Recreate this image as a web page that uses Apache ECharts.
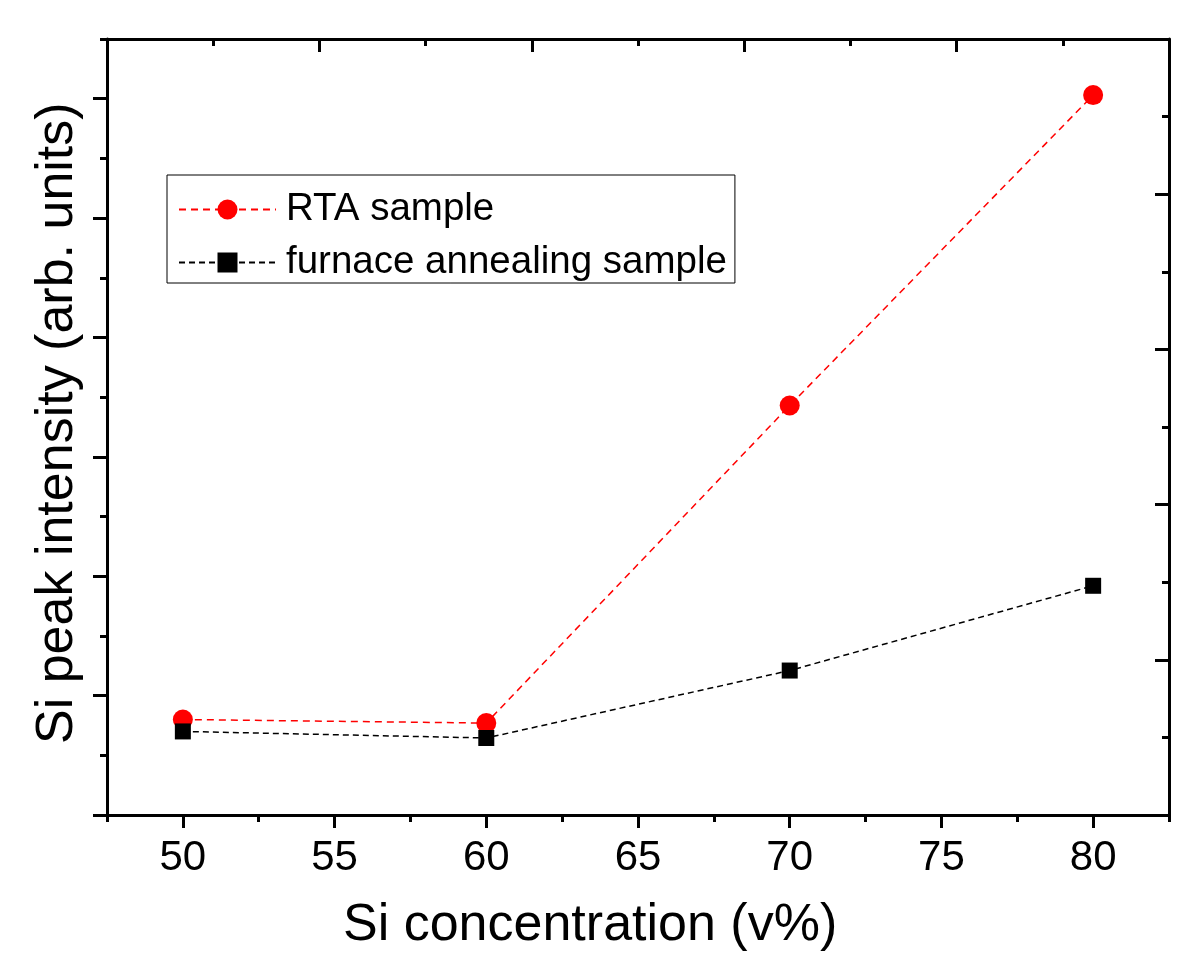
<!DOCTYPE html>
<html>
<head>
<meta charset="utf-8">
<script src="https://cdn.jsdelivr.net/npm/echarts@6/dist/echarts.min.js"></script>
<style>html,body{margin:0;padding:0;background:#fff}#c{width:1200px;height:972px}</style>
</head>
<body>
<div id="c"></div>
<script>
const xValues = [50, 60, 70, 80];
const rtaValues = [0.80, 0.77, 3.43, 6.03];
const furnaceValues = [0.70, 0.645, 1.21, 1.92];
const xMajorTicks = [50, 55, 60, 65, 70, 75, 80];
const yMajorTicks = [0, 1, 2, 3, 4, 5, 6];
const seriesNames = ['RTA sample', 'furnace annealing sample'];

const FONT = 'Liberation Sans, Arial, sans-serif';
function line(show) { return { show: show, onZero: false, lineStyle: { color: '#000', width: 3 } }; }
function ticks(len, inside, extra) { return Object.assign({ show: true, inside: inside, length: len, lineStyle: { width: 3, color: '#000' } }, extra || {}); }
const chart = echarts.init(document.getElementById('c'));

chart.setOption({
  animation: false,
  backgroundColor: '#fff',
  grid: [
    { left: 107, right: 31, top: 39, bottom: 157, containLabel: false },
    { left: 107, right: 31, top: 0, height: 39, containLabel: false }
  ],
  xAxis: [
    { type: 'value', gridIndex: 0, position: 'bottom', min: 47.5, max: 82.5,
      axisLine: line(true), splitLine: { show: false },
      axisTick: ticks(13, false, { customValues: xMajorTicks }),
      axisLabel: { show: true, customValues: xMajorTicks, margin: 22, fontSize: 42, color: '#000', fontFamily: FONT } },
    { type: 'value', gridIndex: 0, position: 'bottom', min: 47.5, max: 82.5, interval: 2.5,
      axisLine: line(false), splitLine: { show: false },
      axisTick: ticks(7, false),
      axisLabel: { show: false } },
    { type: 'value', gridIndex: 1, position: 'bottom', min: 0, max: 5, interval: 1,
      axisLine: line(true), splitLine: { show: false },
      axisTick: ticks(13, false),
      axisLabel: { show: false } },
    { type: 'value', gridIndex: 1, position: 'bottom', min: 0, max: 5, interval: 0.5,
      axisLine: line(false), splitLine: { show: false },
      axisTick: ticks(7, false),
      axisLabel: { show: false } }
  ],
  yAxis: [
    { type: 'value', gridIndex: 0, position: 'left', min: 0, max: 6.5,
      axisLine: line(true), splitLine: { show: false },
      axisTick: ticks(14, false, { customValues: yMajorTicks }),
      axisLabel: { show: false } },
    { type: 'value', gridIndex: 0, position: 'left', min: 0, max: 6.5, interval: 0.5,
      axisLine: line(false), splitLine: { show: false },
      axisTick: ticks(7, false),
      axisLabel: { show: false } },
    { type: 'value', gridIndex: 0, position: 'right', min: 0, max: 5, interval: 1,
      axisLine: line(true), splitLine: { show: false },
      axisTick: ticks(14, true),
      minorTick: { show: true, splitNumber: 2, length: 7, lineStyle: { width: 3, color: '#000' } },
      minorSplitLine: { show: false },
      axisLabel: { show: false } },
    { type: 'value', gridIndex: 1, show: false, min: 0, max: 1 }
  ],
  legend: {
    left: 167, top: 175, orient: 'vertical',
    padding: [15, 8, 1, 11],
    borderColor: '#000', borderWidth: 1,
    itemWidth: 97, itemHeight: 25, itemGap: 14,
    textStyle: { fontSize: 38.5, color: '#000', fontFamily: FONT, padding: [0, 0, 0, 5] },
    data: seriesNames
  },
  graphic: [
    { type: 'text', left: 343, top: 900, style: { text: 'Si concentration (v%)', fontSize: 52, fontFamily: FONT, fill: '#000' } },
    { type: 'text', rotation: Math.PI / 2, x: 32, y: 744, style: { text: 'Si peak intensity (arb. units)', fontSize: 52, fontFamily: FONT, fill: '#000' } }
  ],
  series: [
    { name: seriesNames[0], type: 'line', xAxisIndex: 0, yAxisIndex: 0,
      data: xValues.map((x, i) => [x, rtaValues[i]]),
      symbol: 'circle', symbolSize: 20,
      itemStyle: { color: '#ff0000' },
      lineStyle: { color: '#ff0000', width: 1.5, type: [7, 5] } },
    { name: seriesNames[1], type: 'line', xAxisIndex: 0, yAxisIndex: 0,
      data: xValues.map((x, i) => [x, furnaceValues[i]]),
      symbol: 'rect', symbolSize: 16,
      itemStyle: { color: '#000' },
      lineStyle: { color: '#000', width: 1.5, type: [6, 4] } }
  ]
});
</script>
</body>
</html>
